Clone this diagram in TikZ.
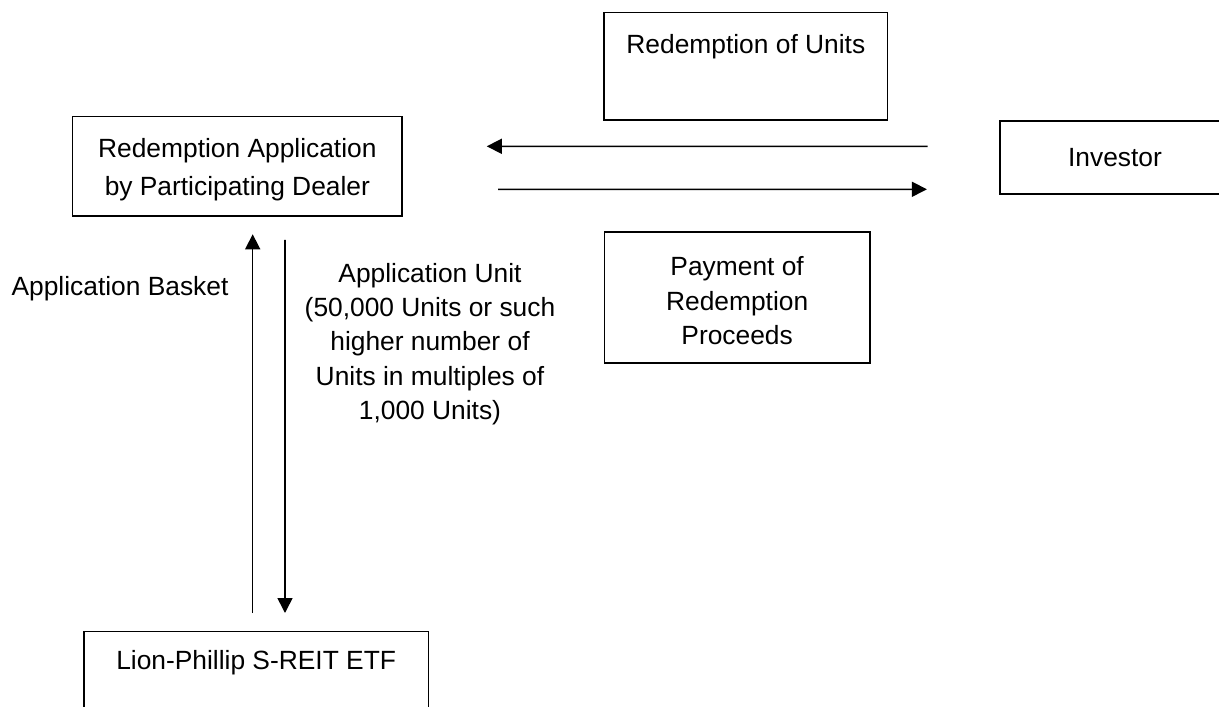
\documentclass[tikz,border=0pt]{standalone}
\usepackage{fontspec}
\setmainfont{Liberation Sans}
\usetikzlibrary{arrows.meta}

\begin{document}
\begin{tikzpicture}[font=\fontsize{15pt}{19.5pt}\selectfont,
    box/.style={draw, line width=0.9pt, inner sep=0pt, align=center},
    arr/.style={-{Triangle[length=0.3cm,width=0.3cm]}, line width=0.9pt}]
    \path[use as bounding box, clip] (0,0) rectangle (24.38,-14.14);
    \node[box, anchor=north, minimum width=5.674cm, text height=0.82cm, text depth=1.332cm] (units) at (14.917,-0.234) {Redemption of Units};
    \node[box, anchor=north, minimum width=4.6cm, text height=0.92cm, text depth=0.546cm] (inv) at (22.3,-2.4) {Investor};
    \node[box, anchor=north, minimum width=6.586cm, text height=1.576cm, text depth=0.41cm] (app) at (4.747,-2.314) {Redemption Application\\[0.08cm]by Participating Dealer};
    \node[box, anchor=north, minimum width=5.314cm, text height=2.25cm, text depth=0.376cm] (pay) at (14.743,-4.62) {Payment of\\Redemption\\Proceeds};
    \node[box, anchor=north, minimum width=6.886cm, text height=0.766cm, text depth=1.6cm] (etf) at (5.123,-12.614) {Lion-Phillip S-REIT ETF};
    \draw[arr, shorten <=1.434cm, shorten >=1.68cm] ([yshift=0.223cm]inv.west) -- ([yshift=0.397cm]app.east);
    \draw[arr, shorten <=1.906cm, shorten >=1.446cm] ([yshift=-0.463cm]app.east) -- ([yshift=-0.637cm]inv.west);
    \draw[arr, shorten <=0.354cm, shorten >=0.354cm] ([xshift=-0.069cm]etf.north) -- ([xshift=0.307cm]app.south);
    \draw[arr, shorten <=0.466cm, shorten >=0.354cm] ([xshift=0.953cm]app.south) -- ([xshift=0.577cm]etf.north);
    \node[anchor=base] (basket) at (2.4,-5.9) {Application Basket};
    \node[anchor=north, align=center, inner sep=0pt] (unit) at (8.6,-5.255) {Application Unit\\(50,000 Units or such\\higher number of\\Units in multiples of\\1,000 Units)};
  \end{tikzpicture}
\end{document}
